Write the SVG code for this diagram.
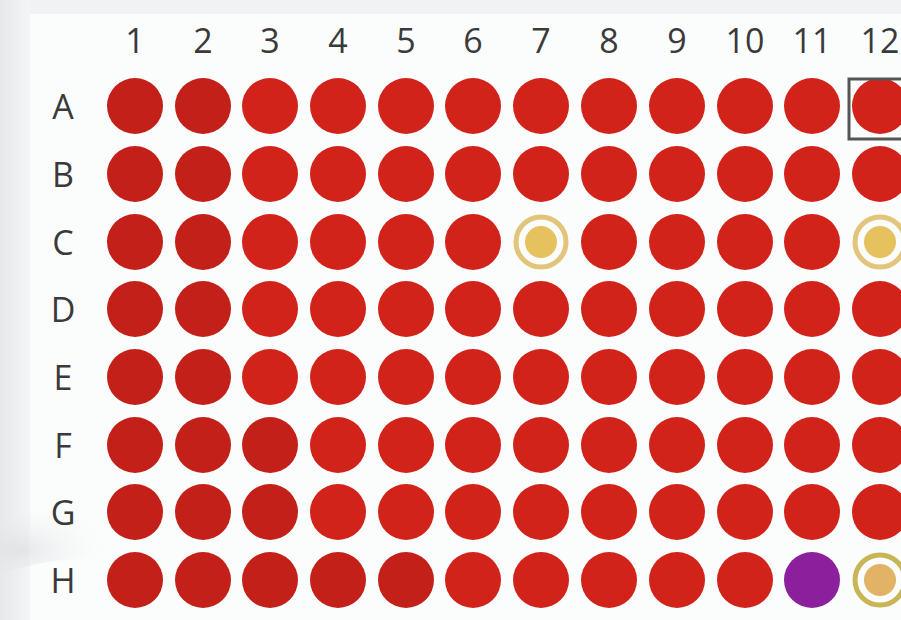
<svg xmlns="http://www.w3.org/2000/svg" width="901" height="620" viewBox="0 0 901 620">
<defs>
<style>
.lbl{font-family:"Open Sans","Liberation Sans",sans-serif;font-size:34px;fill:#3a3a3a;text-anchor:middle}
.w{fill:#d2231b}
.wd{fill:#c32019}
.ring{fill:none;stroke:#e2c47a;stroke-width:5}
.core{fill:#e5c25e}
</style>
<linearGradient id="lg" x1="0" y1="0" x2="1" y2="0">
<stop offset="0" stop-color="#e6e8ea"/>
<stop offset="1" stop-color="#f4f5f6"/>
</linearGradient>
<radialGradient id="sw" cx="0.2" cy="0.6" r="0.8">
<stop offset="0" stop-color="#d8dadc"/>
<stop offset="1" stop-color="#f6f7f8" stop-opacity="0"/>
</radialGradient>
</defs>
<rect width="901" height="620" fill="#f1f2f3"/>
<rect width="30" height="620" fill="url(#lg)"/>
<rect x="30" y="14" width="871" height="606" fill="#fbfcfc"/>
<path d="M0 520 Q40 505 110 520 L110 560 Q50 555 0 575 Z" fill="url(#sw)" opacity="0.6"/>
<g id="col-labels">
<text class="lbl" x="135" y="53">1</text>
<text class="lbl" x="203" y="53">2</text>
<text class="lbl" x="270" y="53">3</text>
<text class="lbl" x="338" y="53">4</text>
<text class="lbl" x="406" y="53">5</text>
<text class="lbl" x="473" y="53">6</text>
<text class="lbl" x="541" y="53">7</text>
<text class="lbl" x="609" y="53">8</text>
<text class="lbl" x="677" y="53">9</text>
<text class="lbl" x="745" y="53">10</text>
<text class="lbl" x="812" y="53">11</text>
<text class="lbl" x="880" y="53">12</text>
</g>
<g id="row-labels">
<text class="lbl" x="63" y="119">A</text>
<text class="lbl" x="63" y="187">B</text>
<text class="lbl" x="63" y="255">C</text>
<text class="lbl" x="63" y="322">D</text>
<text class="lbl" x="63" y="390">E</text>
<text class="lbl" x="63" y="458">F</text>
<text class="lbl" x="63" y="525">G</text>
<text class="lbl" x="63" y="593">H</text>
</g>
<g id="wells">
<g id="row-A">
<circle class="wd" cx="135" cy="106" r="28"/><circle class="wd" cx="203" cy="106" r="28"/><circle class="w" cx="270" cy="106" r="28"/><circle class="w" cx="338" cy="106" r="28"/><circle class="w" cx="406" cy="106" r="28"/><circle class="w" cx="473" cy="106" r="28"/><circle class="w" cx="541" cy="106" r="28"/><circle class="w" cx="609" cy="106" r="28"/><circle class="w" cx="677" cy="106" r="28"/><circle class="w" cx="745" cy="106" r="28"/><circle class="w" cx="812" cy="106" r="28"/><circle class="w" cx="880" cy="106" r="28"/>
</g>
<g id="row-B">
<circle class="wd" cx="135" cy="174" r="28"/><circle class="wd" cx="203" cy="174" r="28"/><circle class="w" cx="270" cy="174" r="28"/><circle class="w" cx="338" cy="174" r="28"/><circle class="w" cx="406" cy="174" r="28"/><circle class="w" cx="473" cy="174" r="28"/><circle class="w" cx="541" cy="174" r="28"/><circle class="w" cx="609" cy="174" r="28"/><circle class="w" cx="677" cy="174" r="28"/><circle class="w" cx="745" cy="174" r="28"/><circle class="w" cx="812" cy="174" r="28"/><circle class="w" cx="880" cy="174" r="28"/>
</g>
<g id="row-C">
<circle class="wd" cx="135" cy="242" r="28"/><circle class="wd" cx="203" cy="242" r="28"/><circle class="w" cx="270" cy="242" r="28"/><circle class="w" cx="338" cy="242" r="28"/><circle class="w" cx="406" cy="242" r="28"/><circle class="w" cx="473" cy="242" r="28"/>
<g id="C7"><circle class="ring" cx="541" cy="242" r="25"/><circle class="core" cx="541" cy="242" r="16"/></g>
<circle class="w" cx="609" cy="242" r="28"/><circle class="w" cx="677" cy="242" r="28"/><circle class="w" cx="745" cy="242" r="28"/><circle class="w" cx="812" cy="242" r="28"/>
<g id="C12"><circle class="ring" cx="880" cy="242" r="25"/><circle class="core" cx="880" cy="242" r="16"/></g>
</g>
<g id="row-D">
<circle class="wd" cx="135" cy="309" r="28"/><circle class="wd" cx="203" cy="309" r="28"/><circle class="w" cx="270" cy="309" r="28"/><circle class="w" cx="338" cy="309" r="28"/><circle class="w" cx="406" cy="309" r="28"/><circle class="w" cx="473" cy="309" r="28"/><circle class="w" cx="541" cy="309" r="28"/><circle class="w" cx="609" cy="309" r="28"/><circle class="w" cx="677" cy="309" r="28"/><circle class="w" cx="745" cy="309" r="28"/><circle class="w" cx="812" cy="309" r="28"/><circle class="w" cx="880" cy="309" r="28"/>
</g>
<g id="row-E">
<circle class="wd" cx="135" cy="377" r="28"/><circle class="wd" cx="203" cy="377" r="28"/><circle class="w" cx="270" cy="377" r="28"/><circle class="w" cx="338" cy="377" r="28"/><circle class="w" cx="406" cy="377" r="28"/><circle class="w" cx="473" cy="377" r="28"/><circle class="w" cx="541" cy="377" r="28"/><circle class="w" cx="609" cy="377" r="28"/><circle class="w" cx="677" cy="377" r="28"/><circle class="w" cx="745" cy="377" r="28"/><circle class="w" cx="812" cy="377" r="28"/><circle class="w" cx="880" cy="377" r="28"/>
</g>
<g id="row-F">
<circle class="wd" cx="135" cy="445" r="28"/><circle class="wd" cx="203" cy="445" r="28"/><circle class="wd" cx="270" cy="445" r="28"/><circle class="w" cx="338" cy="445" r="28"/><circle class="w" cx="406" cy="445" r="28"/><circle class="w" cx="473" cy="445" r="28"/><circle class="w" cx="541" cy="445" r="28"/><circle class="w" cx="609" cy="445" r="28"/><circle class="w" cx="677" cy="445" r="28"/><circle class="w" cx="745" cy="445" r="28"/><circle class="w" cx="812" cy="445" r="28"/><circle class="w" cx="880" cy="445" r="28"/>
</g>
<g id="row-G">
<circle class="wd" cx="135" cy="512" r="28"/><circle class="wd" cx="203" cy="512" r="28"/><circle class="wd" cx="270" cy="512" r="28"/><circle class="w" cx="338" cy="512" r="28"/><circle class="w" cx="406" cy="512" r="28"/><circle class="w" cx="473" cy="512" r="28"/><circle class="w" cx="541" cy="512" r="28"/><circle class="w" cx="609" cy="512" r="28"/><circle class="w" cx="677" cy="512" r="28"/><circle class="w" cx="745" cy="512" r="28"/><circle class="w" cx="812" cy="512" r="28"/><circle class="w" cx="880" cy="512" r="28"/>
</g>
<g id="row-H">
<circle class="wd" cx="135" cy="580" r="28"/><circle class="wd" cx="203" cy="580" r="28"/><circle class="wd" cx="270" cy="580" r="28"/><circle class="wd" cx="338" cy="580" r="28"/><circle class="wd" cx="406" cy="580" r="28"/><circle class="w" cx="473" cy="580" r="28"/><circle class="w" cx="541" cy="580" r="28"/><circle class="w" cx="609" cy="580" r="28"/><circle class="w" cx="677" cy="580" r="28"/><circle class="w" cx="745" cy="580" r="28"/>
<circle id="H11" cx="812" cy="580" r="28" fill="#8b1f9c"/>
<g id="H12"><circle cx="880" cy="580" r="25" fill="none" stroke="#c9b556" stroke-width="5"/><circle cx="880" cy="580" r="16" fill="#e2b265"/></g>
</g>
</g>
<rect id="A12-highlight" x="849" y="79" width="60" height="60" fill="none" stroke="#555" stroke-width="3"/>
</svg>
